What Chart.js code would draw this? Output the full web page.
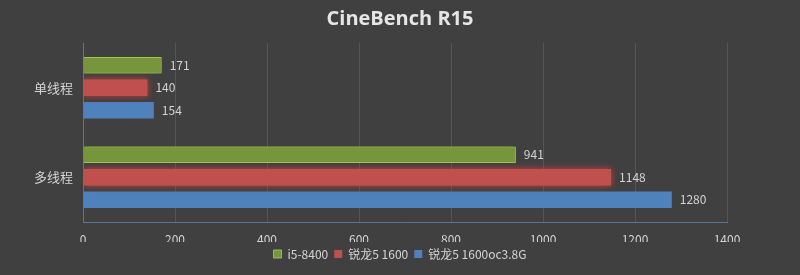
<!DOCTYPE html>
<html>
<head>
<meta charset="utf-8">
<script src="https://cdn.jsdelivr.net/npm/chart.js@4/dist/chart.umd.min.js"></script>
<style>
html,body{margin:0;padding:0;background:#404040;}
#wrap{width:800px;height:275px;}
</style>
</head>
<body>
<div id="wrap"><canvas id="c" width="800" height="275"></canvas></div>
<script>
const categories = ["单线程", "多线程"];
const seriesNames = ["i5-8400", "锐龙5 1600", "锐龙5 1600oc3.8G"];
const i5_8400 = [171, 941];
const r5_1600 = [140, 1148];
const r5_1600oc = [154, 1280];
const xTicks = [0, 200, 400, 600, 800, 1000, 1200, 1400];

const FONT = "'Noto Sans CJK SC', 'Noto Sans', sans-serif";
const glow = ["rgba(170,220,60,0.9)", "rgba(230,60,60,0.9)", null];

const glowPlugin = {
  id: 'glow',
  beforeDatasetDraw(chart, args) {
    const g = glow[args.index];
    chart.ctx.save();
    if (g) { chart.ctx.shadowColor = g; chart.ctx.shadowBlur = 6; }
  },
  afterDatasetDraw(chart) { chart.ctx.restore(); }
};
const labelPlugin = {
  id: 'vlabels',
  afterDatasetsDraw(chart) {
    const ctx = chart.ctx;
    ctx.save();
    ctx.fillStyle = '#d4d4d4';
    ctx.font = "12px " + FONT;
    ctx.textBaseline = 'middle';
    ctx.textAlign = 'left';
    chart.data.datasets.forEach((ds, i) => {
      chart.getDatasetMeta(i).data.forEach((bar, j) => {
        ctx.fillText(String(ds.data[j]), bar.x + 8, bar.y);
      });
    });
    ctx.restore();
  }
};
const bgPlugin = {
  id: 'bg',
  beforeDraw(chart) {
    const ctx = chart.ctx;
    ctx.save();
    ctx.fillStyle = '#404040';
    ctx.fillRect(0, 0, chart.width, chart.height);
    ctx.restore();
  }
};

new Chart(document.getElementById('c'), {
  type: 'bar',
  data: {
    labels: categories,
    datasets: [
      { label: seriesNames[0], data: i5_8400, backgroundColor: '#77963b', borderColor: '#9bbb59', borderWidth: 1 },
      { label: seriesNames[1], data: r5_1600, backgroundColor: '#c0504d', borderColor: '#c0504d', borderWidth: 0 },
      { label: seriesNames[2], data: r5_1600oc, backgroundColor: '#4f81bd', borderColor: '#4f81bd', borderWidth: 0 }
    ]
  },
  options: {
    indexAxis: 'y',
    responsive: false,
    animation: false,
    devicePixelRatio: 1,
    layout: { padding: { left: 0, right: 0, top: 0, bottom: 5 } },
    datasets: { bar: { categoryPercentage: 0.754, barPercentage: 0.73 } },
    plugins: {
      title: {
        display: true,
        text: 'CineBench R15',
        color: '#e6e6e6',
        font: { family: "'Open Sans', 'Noto Sans', sans-serif", size: 20, weight: 'bold', lineHeight: 1.2 },
        padding: { top: 7, bottom: 12 }
      },
      legend: {
        position: 'bottom',
        labels: {
          color: '#d4d4d4',
          font: { family: FONT, size: 12 },
          boxWidth: 8, boxHeight: 8, padding: 6
        }
      },
      tooltip: { enabled: false }
    },
    scales: {
      x: {
        min: 0, max: 1400,
        afterBuildTicks(s) { s.ticks = xTicks.map(v => ({ value: v })); },
        afterFit(s) { s.height = 20; },
        ticks: { color: '#d4d4d4', font: { family: FONT, size: 12 }, padding: 10, callback: v => String(v) },
        grid: { color: '#555555', drawTicks: false },
        border: { color: '#5a7497' }
      },
      y: {
        afterFit(s) { s.width = 83; },
        ticks: { color: '#d4d4d4', font: { family: FONT, size: 13 }, padding: 10 },
        grid: { display: false, drawTicks: false },
        border: { color: '#5a7497' }
      },
      yRight: {
        type: 'category',
        position: 'right',
        afterFit(s) { s.width = 73; },
        ticks: { display: false },
        grid: { display: false, drawTicks: false },
        border: { display: false }
      }
    }
  },
  plugins: [bgPlugin, glowPlugin, labelPlugin]
});
</script>
</body>
</html>
